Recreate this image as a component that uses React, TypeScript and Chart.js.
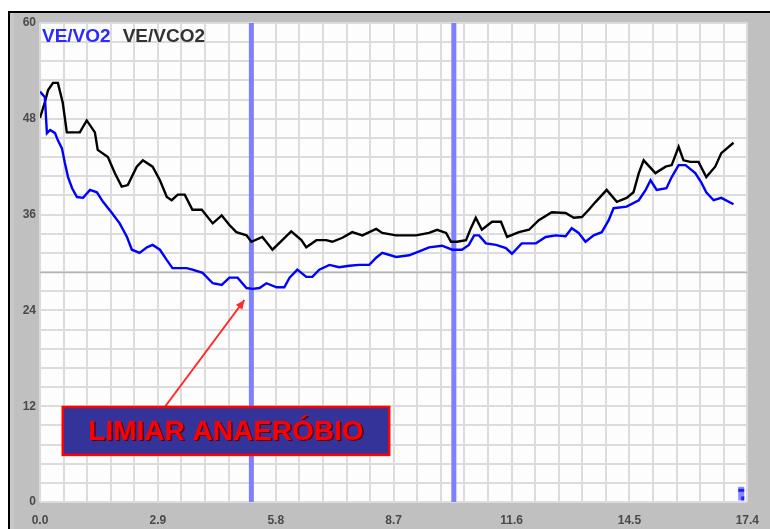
import React, { useEffect, useRef } from 'react';
import { Chart, registerables } from 'chart.js';

Chart.register(...registerables);

// ---- data (minutes vs ventilatory equivalents) ----
const timeVO2 = [0.00,0.12,0.17,0.25,0.37,0.44,0.54,0.61,0.69,0.79,0.91,1.06,1.23,1.40,1.55,1.77,1.96,2.14,2.26,2.45,2.63,2.77,2.95,3.12,3.26,3.61,3.75,4.00,4.25,4.47,4.66,4.86,5.08,5.23,5.40,5.57,5.82,6.01,6.14,6.33,6.55,6.70,6.87,7.12,7.36,7.61,7.85,8.10,8.27,8.42,8.76,9.08,9.33,9.57,9.89,10.14,10.38,10.55,10.68,10.80,10.97,11.22,11.46,11.61,11.85,12.20,12.44,12.69,12.93,13.08,13.25,13.42,13.62,13.82,13.99,14.11,14.43,14.73,14.90,15.02,15.17,15.41,15.54,15.71,15.88,16.12,16.27,16.39,16.57,16.76,17.06];
const veVO2 = [51.4,50.7,46.2,46.6,46.2,45.3,44.3,42.5,40.7,39.3,38.2,38.1,39.1,38.8,37.6,36.2,34.9,33.2,31.6,31.2,31.9,32.2,31.6,30.3,29.3,29.3,29.1,28.7,27.4,27.2,28.1,28.1,26.8,26.7,26.8,27.4,26.9,26.9,28.1,29.1,28.2,28.2,29.1,29.7,29.4,29.6,29.7,29.7,30.6,31.2,30.7,30.9,31.4,31.9,32.1,31.6,31.6,32.2,33.4,33.4,32.4,32.2,31.8,31.1,32.4,32.4,33.2,33.4,33.3,34.3,33.7,32.6,33.4,33.8,35.3,36.8,37.0,37.8,39.1,40.3,39.1,39.3,40.7,42.2,42.2,41.2,40.0,38.8,37.8,38.1,37.3];

const timeVCO2 = [0.00,0.12,0.20,0.32,0.44,0.56,0.66,0.98,1.15,1.35,1.42,1.67,1.84,2.01,2.16,2.38,2.53,2.77,2.95,3.12,3.24,3.39,3.56,3.75,3.98,4.25,4.47,4.66,4.83,5.08,5.20,5.47,5.72,5.96,6.18,6.43,6.55,6.80,7.04,7.19,7.44,7.68,7.93,8.27,8.42,8.76,9.01,9.25,9.57,9.77,9.99,10.11,10.26,10.48,10.60,10.72,10.87,11.12,11.34,11.49,11.78,12.03,12.27,12.59,12.93,13.13,13.33,13.50,13.67,13.94,14.19,14.43,14.60,14.73,14.85,15.14,15.39,15.54,15.71,15.83,16.00,16.20,16.39,16.61,16.76,17.06];
const veVCO2 = [48.1,50.1,51.6,52.5,52.5,50.0,46.3,46.3,47.8,46.3,44.1,43.2,41.2,39.5,39.7,42.0,42.8,42.0,40.3,38.2,37.8,38.5,38.5,36.6,36.6,34.9,35.9,34.7,33.8,33.4,32.6,33.2,31.6,32.8,33.9,32.8,31.9,32.8,32.8,32.6,33.1,33.8,33.4,34.2,33.7,33.4,33.4,33.4,33.7,34.1,33.7,32.6,32.6,32.8,34.3,35.6,34.1,35.1,35.1,33.2,33.8,34.1,35.3,36.3,36.2,35.6,35.7,36.6,37.6,39.1,37.6,38.1,38.8,41.2,42.8,41.2,42.0,42.2,44.5,42.8,42.6,42.6,40.7,42.0,43.7,45.0];

const seriesNames = ['VE/VO2', 'VE/VCO2'];
const xTickLabels = ['0.0', '2.9', '5.8', '8.7', '11.6', '14.5', '17.4'];
const yTickLabels = ['0', '12', '24', '36', '48', '60'];
const X_MAX = 17.4;
const Y_MAX = 60;
const X_MINOR = 0.58;
const Y_MINOR = 2.4;
const thresholdTimes = [5.2, 10.18];
const referenceLevel = 28.8;
const annotationText = 'LIMIAR ANAERÓBIO';
const annotationBox = { x0: 0.56, x1: 8.59, yTop: 11.9, yBottom: 5.9 };
const arrowFrom = { x: 3.07, y: 11.9 };
const arrowTo = { x: 5.03, y: 25.3 };
const cornerMarker = { x: 17.25, yTop: 1.9, yBottom: 0.2 };

const toPoints = (xs: number[], ys: number[]) => xs.map((x, i) => ({ x, y: ys[i] }));

const framePlugin = {
  id: 'frame',
  beforeDraw(chart: any) {
    const { ctx, chartArea: a, width, height } = chart;
    ctx.save();
    ctx.fillStyle = '#ffffff';
    ctx.fillRect(0, 0, width, height);
    ctx.fillStyle = '#c0c0c0';
    ctx.fillRect(9, 12, width - 9, height - 12);
    ctx.fillStyle = '#c8c8c8';
    ctx.fillRect(10, 13, 4, height - 13);
    ctx.fillStyle = '#000000';
    ctx.fillRect(8, 11, width - 8, 2);
    ctx.fillRect(8, 11, 2, height - 11);
    ctx.fillStyle = '#fdfdfd';
    ctx.fillRect(a.left, a.top, a.right - a.left, a.bottom - a.top);
    ctx.restore();
  },
  beforeDatasetsDraw(chart: any) {
    const { ctx, chartArea: a, scales } = chart;
    const xs = scales.x, ys = scales.y;
    ctx.save();
    ctx.beginPath();
    ctx.rect(a.left, a.top, a.right - a.left, a.bottom - a.top);
    ctx.clip();
    const ry = Math.round(ys.getPixelForValue(referenceLevel)) + 0.5;
    ctx.strokeStyle = '#b4b4b4';
    ctx.lineWidth = 1.5;
    ctx.beginPath();
    ctx.moveTo(a.left, ry);
    ctx.lineTo(a.right, ry);
    ctx.stroke();
    ctx.strokeStyle = '#8080ff';
    ctx.lineWidth = 5;
    thresholdTimes.forEach((t) => {
      const px = xs.getPixelForValue(t);
      ctx.beginPath();
      ctx.moveTo(px, a.top);
      ctx.lineTo(px, a.bottom);
      ctx.stroke();
    });
    ctx.restore();
  },
  afterDatasetsDraw(chart: any) {
    const { ctx, chartArea: a, scales } = chart;
    const xs = scales.x, ys = scales.y;
    ctx.save();
    // legend text
    ctx.font = 'bold 19px "Liberation Sans", Arial, sans-serif';
    ctx.textBaseline = 'alphabetic';
    ctx.textAlign = 'left';
    ctx.fillStyle = '#2a2aff';
    ctx.fillText(seriesNames[0], a.left + 2, a.top + 19);
    const w0 = ctx.measureText(seriesNames[0]).width;
    ctx.fillStyle = '#333333';
    ctx.fillText(seriesNames[1], a.left + 2 + w0 + 12, a.top + 19);

    // arrow
    const fx = xs.getPixelForValue(arrowFrom.x), fy = ys.getPixelForValue(arrowFrom.y);
    const tx = xs.getPixelForValue(arrowTo.x), ty = ys.getPixelForValue(arrowTo.y);
    ctx.strokeStyle = '#ff2a2a';
    ctx.fillStyle = '#ff2a2a';
    ctx.lineWidth = 2;
    ctx.beginPath();
    ctx.moveTo(fx, fy);
    ctx.lineTo(tx, ty);
    ctx.stroke();
    const ang = Math.atan2(ty - fy, tx - fx);
    const hl = 9, hw = 4;
    ctx.beginPath();
    ctx.moveTo(tx, ty);
    ctx.lineTo(tx - hl * Math.cos(ang) + hw * Math.sin(ang), ty - hl * Math.sin(ang) - hw * Math.cos(ang));
    ctx.lineTo(tx - hl * Math.cos(ang) - hw * Math.sin(ang), ty - hl * Math.sin(ang) + hw * Math.cos(ang));
    ctx.closePath();
    ctx.fill();

    // annotation box
    const bx0 = xs.getPixelForValue(annotationBox.x0);
    const bx1 = xs.getPixelForValue(annotationBox.x1);
    const by0 = ys.getPixelForValue(annotationBox.yTop);
    const by1 = ys.getPixelForValue(annotationBox.yBottom);
    ctx.fillStyle = '#333399';
    ctx.fillRect(bx0, by0, bx1 - bx0, by1 - by0);
    ctx.strokeStyle = '#ff0000';
    ctx.lineWidth = 2.5;
    ctx.strokeRect(bx0, by0, bx1 - bx0, by1 - by0);
    ctx.font = 'bold 28px "Liberation Sans", Arial, sans-serif';
    ctx.textAlign = 'center';
    ctx.textBaseline = 'middle';
    ctx.fillStyle = '#5a0010';
    ctx.fillText(annotationText, (bx0 + bx1) / 2 + 1.5, (by0 + by1) / 2 + 2);
    ctx.fillStyle = '#ff0000';
    ctx.fillText(annotationText, (bx0 + bx1) / 2, (by0 + by1) / 2 + 1);

    // small corner marker
    const mx = xs.getPixelForValue(cornerMarker.x);
    const my0 = ys.getPixelForValue(cornerMarker.yTop);
    const my1 = ys.getPixelForValue(cornerMarker.yBottom);
    ctx.fillStyle = '#8888ff';
    ctx.fillRect(mx - 3, my0, 6, my1 - my0);
    ctx.fillStyle = '#2020ff';
    ctx.fillRect(mx - 3, my0 + 2, 6, 3);
    ctx.fillRect(mx, my1 - 4, 3, 4);
    ctx.restore();
  },
};

export default function App() {
  const canvasRef = useRef<HTMLCanvasElement | null>(null);

  useEffect(() => {
    const canvas = canvasRef.current;
    if (!canvas) return;
    const tickFont = { family: '"Liberation Sans", Arial, sans-serif', size: 12, weight: 'bold' as const };
    const chart = new Chart(canvas, {
      type: 'line',
      data: {
        datasets: [
          {
            label: seriesNames[0],
            data: toPoints(timeVO2, veVO2),
            borderColor: '#0000ff',
            borderWidth: 2.4,
            pointRadius: 0,
            tension: 0,
            fill: false,
          },
          {
            label: seriesNames[1],
            data: toPoints(timeVCO2, veVCO2),
            borderColor: '#000000',
            borderWidth: 2.4,
            pointRadius: 0,
            tension: 0,
            fill: false,
          },
        ],
      },
      options: {
        animation: false,
        responsive: false,
        maintainAspectRatio: false,
        layout: { padding: { left: 0, top: 23, right: 21, bottom: 0 } },
        plugins: {
          legend: { display: false },
          tooltip: { enabled: false },
        },
        scales: {
          x: {
            type: 'linear',
            min: 0,
            max: X_MAX,
            afterBuildTicks: (scale: any) => {
              const n = Math.round(X_MAX / X_MINOR);
              scale.ticks = Array.from({ length: n + 1 }, (_, i) => ({ value: +(i * X_MINOR).toFixed(2) }));
            },
            afterFit: (scale: any) => {
              scale.height = 27;
            },
            ticks: {
              autoSkip: false,
              maxRotation: 0,
              minRotation: 0,
              padding: 11,
              color: '#4a4a4a',
              font: tickFont,
              callback: (_v: any, i: number) => (i % 5 === 0 ? xTickLabels[i / 5] : ''),
            },
            grid: { color: '#dcdcdc', lineWidth: 2, drawTicks: false },
            border: { display: false },
          },
          y: {
            type: 'linear',
            min: 0,
            max: Y_MAX,
            afterBuildTicks: (scale: any) => {
              const n = Math.round(Y_MAX / Y_MINOR);
              scale.ticks = Array.from({ length: n + 1 }, (_, i) => ({ value: +(i * Y_MINOR).toFixed(2) }));
            },
            afterFit: (scale: any) => {
              scale.width = 40;
            },
            ticks: {
              autoSkip: false,
              padding: 4,
              color: '#4a4a4a',
              font: tickFont,
              callback: (_v: any, i: number) => (i % 5 === 0 ? yTickLabels[i / 5] : ''),
            },
            grid: { color: '#dcdcdc', lineWidth: 2, drawTicks: false },
            border: { display: false },
          },
        },
      },
      plugins: [framePlugin],
    });
    return () => chart.destroy();
  }, []);

  return (
    <div style={{ position: 'fixed', left: 0, top: 0, width: 770, height: 529 }}>
      <canvas ref={canvasRef} width={770} height={529} style={{ display: 'block', width: 770, height: 529 }} />
    </div>
  );
}
